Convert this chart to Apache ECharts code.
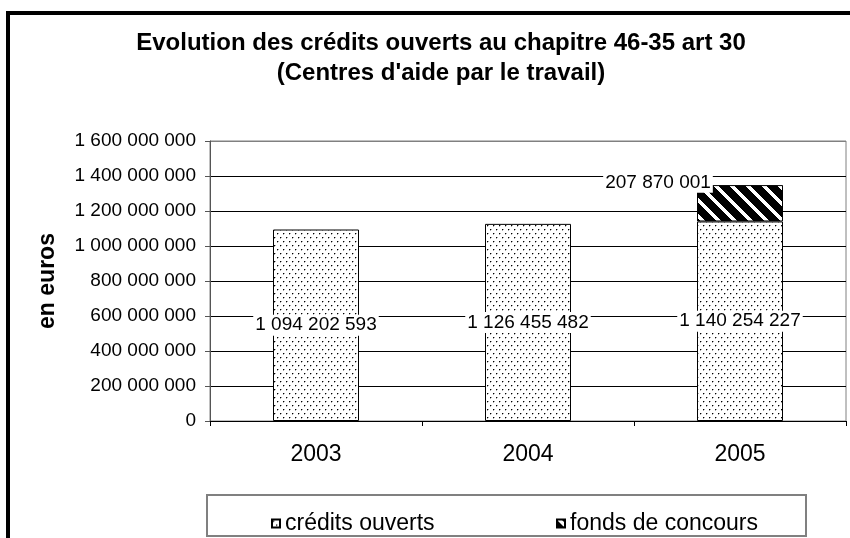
<!DOCTYPE html>
<html>
<head>
<meta charset="utf-8">
<script src="https://cdn.jsdelivr.net/npm/echarts@6/dist/echarts.min.js"></script>
<style>html,body{margin:0;padding:0;background:#fff;}#c{width:850px;height:538px;}</style>
</head>
<body>
<div id="c"></div>
<script>
var categories = ['2003', '2004', '2005'];
var creditsOuverts = [1094202593, 1126455482, 1140254227];
var fondsConcours = ['-', '-', 207870001];
var seriesNames = ['crédits ouverts', 'fonds de concours'];
var titleText = 'Evolution des crédits ouverts au chapitre 46-35 art 30\n(Centres d\'aide par le travail)';
var yName = 'en euros';

function fmt(v) { return String(v).replace(/\B(?=(\d{3})+(?!\d))/g, ' '); }

function dotPattern() {
  var c = document.createElement('canvas'); c.width = 6; c.height = 8;
  var g = c.getContext('2d');
  g.fillStyle = '#fff'; g.fillRect(0, 0, 6, 8);
  g.fillStyle = '#aaa';
  g.fillRect(2, 1, 1, 1); g.fillRect(1, 2, 1, 1);
  g.fillRect(5, 5, 1, 1); g.fillRect(4, 6, 1, 1);
  g.fillStyle = '#000';
  g.fillRect(1, 1, 1, 1); g.fillRect(4, 5, 1, 1);
  return c;
}
function stripePattern() {
  var n = 16;
  var c = document.createElement('canvas'); c.width = n; c.height = n;
  var g = c.getContext('2d');
  var img = g.createImageData(n, n);
  for (var y = 0; y < n; y++) for (var x = 0; x < n; x++) {
    var d = ((x - y) % n + n) % n;
    var v = d < 5 ? 255 : 0;
    var i = (y * n + x) * 4;
    img.data[i] = v; img.data[i + 1] = v; img.data[i + 2] = v; img.data[i + 3] = 255;
  }
  g.putImageData(img, 0, 0);
  return c;
}

var font = 'Liberation Sans, Arial, sans-serif';
var chart = echarts.init(document.getElementById('c'), null, { renderer: 'canvas' });
var gridColors = ['#000', '#000', '#000', '#000', '#000', '#000', '#000', '#000', '#808080'];

chart.setOption({
  animation: false,
  backgroundColor: '#fff',
  title: {
    text: titleText,
    left: 436, top: 23, textAlign: 'center',
    textStyle: { fontFamily: font, fontWeight: 'bold', fontSize: 24, lineHeight: 30, color: '#000' }
  },
  grid: { left: 210, top: 141, right: 4, bottom: 117, show: true, borderColor: '#808080', borderWidth: 1, backgroundColor: 'transparent' },
  xAxis: {
    type: 'category', data: categories,
    axisLine: { lineStyle: { color: '#000', width: 1 } },
    axisTick: { show: true, length: 5, lineStyle: { color: '#000' } },
    axisLabel: { fontFamily: font, fontSize: 23, color: '#000', margin: 22 }
  },
  yAxis: {
    type: 'value', min: 0, max: 1600000000, interval: 200000000,
    name: yName, nameLocation: 'middle', nameGap: 151,
    nameTextStyle: { fontFamily: font, fontWeight: 'bold', fontSize: 23, color: '#000' },
    axisLine: { show: true, lineStyle: { color: '#555', width: 1 } },
    axisTick: { show: true, length: 5, lineStyle: { color: '#555' } },
    axisLabel: { fontFamily: font, fontSize: 19, color: '#000', margin: 14, formatter: fmt },
    splitLine: { show: true, lineStyle: { color: gridColors, width: 1 } }
  },
  legend: [
    { data: [seriesNames[0]], left: 266, top: 507, icon: 'rect', itemWidth: 8, itemHeight: 8, itemGap: 0,
      textStyle: { fontFamily: font, fontSize: 23, color: '#000' } },
    { data: [seriesNames[1]], left: 551, top: 507, icon: 'rect', itemWidth: 8, itemHeight: 8, itemGap: 0,
      textStyle: { fontFamily: font, fontSize: 23, color: '#000' } }
  ],
  graphic: [
    { type: 'rect', shape: { x: 8, y: 13, width: 1000, height: 1000 }, style: { fill: 'none', stroke: '#000', lineWidth: 4 }, silent: true },
    { type: 'rect', shape: { x: 207, y: 495, width: 599, height: 41 }, style: { fill: 'none', stroke: '#808080', lineWidth: 2 }, silent: true, z: -1 }
  ],
  series: [
    {
      name: seriesNames[0], type: 'bar', stack: 'tot', data: creditsOuverts, barWidth: 86,
      itemStyle: { color: { image: dotPattern(), repeat: 'repeat' }, borderColor: '#000', borderWidth: 1 },
      label: { show: true, position: 'inside', formatter: function (p) { return fmt(p.value); },
        fontFamily: font, fontSize: 19, color: '#000', backgroundColor: '#fff', padding: [1, 2] },
      emphasis: { disabled: true }
    },
    {
      name: seriesNames[1], type: 'bar', stack: 'tot', data: fondsConcours, barWidth: 86,
      itemStyle: { color: { image: stripePattern(), repeat: 'repeat' }, borderColor: '#000', borderWidth: 1 },
      label: { show: true, position: 'inside', offset: [-82, -21], formatter: function (p) { return fmt(p.value); },
        fontFamily: font, fontSize: 19, color: '#000', backgroundColor: '#fff', padding: [1, 2] },
      emphasis: { disabled: true }
    }
  ]
});
</script>
</body>
</html>
